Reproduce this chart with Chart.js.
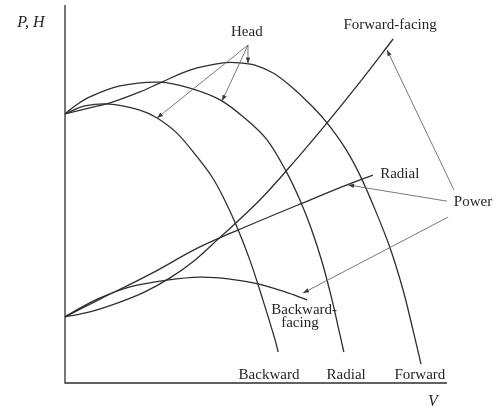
<!DOCTYPE html>
<html>
<head>
<meta charset="utf-8">
<script src="https://cdn.jsdelivr.net/npm/chart.js@4.4.1/dist/chart.umd.min.js"></script>
<style>
  html, body { margin: 0; padding: 0; background: #ffffff; }
  #wrap { width: 497px; height: 409px; }
</style>
</head>
<body>
<div id="wrap"><canvas id="fan" width="497" height="409"></canvas></div>
<script>
// Fan characteristics: head H and power P against volume flow V,
// for backward-, radial- and forward-facing blades (arbitrary units 0-100).

// Head curves [V, H]
const headBackward = [[0,71.2],[5.2,73.3],[11.8,73.8],[19.6,72.2],[24.1,70.1],[29.3,66.1],[34.6,59.8],[38.5,54.5],[41.4,49.2],[44.8,41.8],[48.4,32.5],[51.8,22.0],[55.0,11.4],[55.8,8.2]];
const headRadial   = [[0,71.2],[2.6,73.3],[6.5,75.7],[14.4,78.6],[24.9,79.6],[32.7,78.0],[40.6,74.9],[47.6,69.6],[52.9,64.3],[58.1,55.6],[61.5,48.4],[64.4,41.0],[67.3,32.0],[69.9,22.0],[71.7,14.0],[73.0,8.2]];
const headForward  = [[0,71.2],[6.5,72.8],[11.8,74.1],[19.6,77.0],[24.9,79.4],[32.7,82.8],[41.4,84.7],[45.8,84.7],[49.7,84.1],[54.5,82.0],[59.7,78.0],[64.9,73.0],[68.6,68.8],[73.3,62.2],[77.2,55.0],[81.2,45.8],[85.1,35.7],[88.5,24.6],[91.1,14.0],[93.2,5.0]];

// Power curves [V, P]
const powerBackward = [[0,17.5],[3.9,19.8],[9.2,22.5],[17.0,25.4],[26.7,27.2],[35.3,28.0],[43.2,27.5],[50.5,26.2],[57.6,24.1],[63.4,22.0]];
const powerRadial   = [[0,17.5],[9.2,22.2],[22.3,28.8],[35.3,36.0],[48.4,41.8],[64.1,48.4],[73.8,52.4],[80.6,55.0]];
const powerForward  = [[0,17.5],[6.5,18.8],[14.4,21.4],[20.9,24.1],[27.5,27.8],[34.0,32.5],[39.8,37.8],[51.0,48.4],[61.5,60.3],[68.6,68.8],[77.2,79.6],[85.9,91.0]];

// Leader arrows: [fromV, fromY, toV, toY]
const headArrows  = [[47.9,89.4,24.1,70.1],[47.9,89.4,41.1,74.6],[47.9,89.4,47.9,84.5]];
const powerArrows = [[101.8,51.1,84.3,88.1],[100.0,48.1,74.1,52.4],[100.3,43.9,62.3,23.8]];

// Text labels: [text, V, Y, align]
const curveLabels = [
  ['Head', 47.6, 92.9, 'center'],
  ['Forward-facing', 85.1, 94.7, 'center'],
  ['Radial', 82.5, 55.3, 'left'],
  ['Power', 106.8, 47.9, 'center'],
  ['Backward-', 62.6, 19.3, 'center'],
  ['facing', 61.5, 15.9, 'center'],
  ['Backward', 53.4, 2.1, 'center'],
  ['Radial', 73.6, 2.1, 'center'],
  ['Forward', 92.9, 2.1, 'center']
];
const axisLabels = [['P, H', -8.9, 95.2], ['V', 96.3, -5.0]];

const toXY = arr => arr.map(([x, y]) => ({ x, y }));
const INK = '#2e2e2e';

function curve(data) {
  return {
    data: toXY(data),
    showLine: true,
    borderColor: INK,
    borderWidth: 1.3,
    pointRadius: 0,
    tension: 0.35,
    fill: false
  };
}

const annotate = {
  id: 'annotate',
  beforeDatasetsDraw(chart) {
    const { ctx, chartArea: a } = chart;
    ctx.save();
    ctx.strokeStyle = INK;
    ctx.lineWidth = 1.3;
    ctx.beginPath();
    ctx.moveTo(a.left, a.top);
    ctx.lineTo(a.left, a.bottom);
    ctx.lineTo(a.right, a.bottom);
    ctx.stroke();
    ctx.restore();
  },
  afterDatasetsDraw(chart) {
    const { ctx } = chart;
    const xs = chart.scales.x, ys = chart.scales.y;
    const px = v => xs.getPixelForValue(v), py = v => ys.getPixelForValue(v);
    ctx.save();
    // arrows
    ctx.strokeStyle = '#6a6a6a';
    ctx.fillStyle = '#3a3a3a';
    ctx.lineWidth = 0.9;
    [...headArrows, ...powerArrows].forEach(([x0, y0, x1, y1]) => {
      const ax = px(x0), ay = py(y0), bx = px(x1), by = py(y1);
      ctx.beginPath();
      ctx.moveTo(ax, ay);
      ctx.lineTo(bx, by);
      ctx.stroke();
      const ang = Math.atan2(by - ay, bx - ax);
      const L = 6, W = 2.2;
      ctx.beginPath();
      ctx.moveTo(bx, by);
      ctx.lineTo(bx - L * Math.cos(ang) + W * Math.sin(ang), by - L * Math.sin(ang) - W * Math.cos(ang));
      ctx.lineTo(bx - L * Math.cos(ang) - W * Math.sin(ang), by - L * Math.sin(ang) + W * Math.cos(ang));
      ctx.closePath();
      ctx.fill();
    });
    // labels
    ctx.fillStyle = '#262626';
    ctx.textBaseline = 'middle';
    ctx.font = '15px "Liberation Serif", "DejaVu Serif", serif';
    curveLabels.forEach(([t, x, y, al]) => {
      ctx.textAlign = al;
      ctx.fillText(t, px(x), py(y));
    });
    ctx.font = 'italic 16px "Liberation Serif", "DejaVu Serif", serif';
    ctx.textAlign = 'center';
    axisLabels.forEach(([t, x, y]) => ctx.fillText(t, px(x), py(y)));
    ctx.restore();
  }
};

new Chart(document.getElementById('fan'), {
  type: 'scatter',
  data: {
    datasets: [headBackward, headRadial, headForward, powerBackward, powerRadial, powerForward].map(curve)
  },
  options: {
    responsive: false,
    animation: false,
    events: [],
    layout: { padding: { left: 65, right: 50, top: 5, bottom: 26 } },
    plugins: { legend: { display: false }, tooltip: { enabled: false } },
    scales: {
      x: { type: 'linear', min: 0, max: 100, display: false },
      y: { type: 'linear', min: 0, max: 100, display: false }
    }
  },
  plugins: [annotate]
});
</script>
</body>
</html>
